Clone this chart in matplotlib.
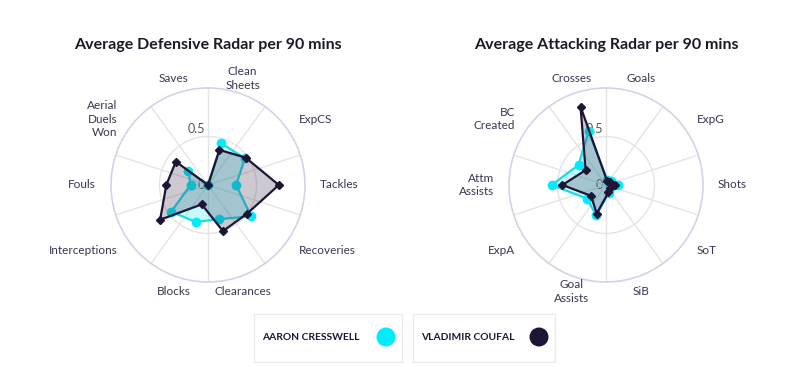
import numpy as np
import matplotlib
matplotlib.use("Agg")
import matplotlib.pyplot as plt
from matplotlib.patches import Rectangle, Circle

plt.rcParams['font.family'] = ['Lato', 'DejaVu Sans']

# ---------------- data ----------------
def_labels = ["Clean\nSheets", "ExpCS", "Tackles", "Recoveries", "Clearances",
              "Blocks", "Interceptions", "Fouls", "Aerial\nDuels\nWon", "Saves"]
def_cresswell = [0.45, 0.47, 0.29, 0.55, 0.37, 0.40, 0.47, 0.18, 0.25, 0.0]
def_coufal = [0.38, 0.48, 0.73, 0.50, 0.50, 0.21, 0.61, 0.43, 0.41, 0.0]

att_labels = ["Goals", "ExpG", "Shots", "SoT", "SiB", "Goal\nAssists",
              "ExpA", "Attm\nAssists", "BC\nCreated", "Crosses"]
att_cresswell = [0.05, 0.07, 0.12, 0.05, 0.09, 0.33, 0.24, 0.56, 0.35, 0.58]
att_coufal = [0.04, 0.05, 0.09, 0.05, 0.08, 0.31, 0.19, 0.45, 0.26, 0.85]

player_names = ["AARON CRESSWELL", "VLADIMIR COUFAL"]
titles = ["Average Defensive Radar per 90 mins", "Average Attacking Radar per 90 mins"]
r_ticks = [0, 0.5]

CYAN = "#00ecfa"
CYAN_LINE = "#1ad9ea"
DARK = "#1e1535"
TEXT = "#3a3550"

W, H = 800, 367
fig = plt.figure(figsize=(W / 100, H / 100), dpi=100)
fig.patch.set_facecolor("white")

R_PX = 97


def radar(cx, cy, labels, vals_a, vals_b, title):
    ax = fig.add_axes([(cx - R_PX) / W, (H - cy - R_PX) / H, 2 * R_PX / W, 2 * R_PX / H],
                      projection="polar")
    ax.set_theta_zero_location("N")
    ax.set_theta_direction(-1)
    ax.set_ylim(0, 1)
    n = len(labels)
    step = 2 * np.pi / n
    theta = np.arange(n) * step + step / 2
    # grid
    ax.set_xticks(np.arange(n) * step)
    ax.set_xticklabels([])
    ax.set_yticks([0.5])
    ax.set_yticklabels([])
    ax.tick_params(length=0)
    ax.xaxis.grid(True, color="#e4e4e4", lw=1)
    ax.yaxis.grid(True, color="#e4e4e4", lw=1)
    ax.spines["polar"].set_color("#cfd4ec")
    ax.spines["polar"].set_linewidth(1.2)
    ax.set_facecolor("none")

    # tick labels
    for rv in r_ticks:
        lab = "0" if rv == 0 else str(rv)
        ax.annotate(lab, xy=(0, rv), xytext=(-2, 0 if rv == 0 else 1),
                    textcoords="offset points", ha="right",
                    va="center" if rv == 0 else "bottom",
                    fontsize=9, color="#555555", zorder=1)

    th = np.concatenate([theta, theta[:1]])
    a = np.concatenate([vals_a, vals_a[:1]])
    b = np.concatenate([vals_b, vals_b[:1]])
    ax.fill(th, a, color=CYAN, alpha=0.22, lw=0, zorder=2)
    ax.plot(th, a, color=CYAN_LINE, lw=1.6, zorder=3)
    ax.plot(theta, vals_a, "o", color=CYAN, ms=6, mec=CYAN, zorder=3)
    ax.fill(th, b, color="#3a2a4a", alpha=0.25, lw=0, zorder=4)
    ax.plot(th, b, color=DARK, lw=1.6, zorder=5)
    ax.plot(theta, vals_b, "D", color=DARK, ms=4.5, zorder=5)

    # category labels
    for t, lab in zip(theta, labels):
        deg = np.degrees(t) % 360
        if abs(deg - 0) < 20 or abs(deg - 180) < 20 or abs(deg - 360) < 20:
            ha = "center"
        elif deg < 180:
            ha = "left"
        else:
            ha = "right"
        ax.text(t, 1.155, lab, ha=ha, va="center", fontsize=8.5, color=TEXT,
                linespacing=1.25, clip_on=False)

    fig.text(cx / W, 1 - 45 / H, title, ha="center", va="center",
             fontsize=11.5, fontweight="bold", color="#1a1a2a")
    return ax


radar(208, 185, def_labels, def_cresswell, def_coufal, titles[0])
radar(606, 185, att_labels, att_cresswell, att_coufal, titles[1])

# legend in pixel coordinates
lg = fig.add_axes([0, 0, 1, 1])
lg.set_xlim(0, W)
lg.set_ylim(H, 0)
lg.axis("off")
lg.patch.set_alpha(0)
boxes = [(254, 402, CYAN), (413, 555, DARK)]
for (x0, x1, col), name in zip(boxes, player_names):
    lg.add_patch(Rectangle((x0, 314), x1 - x0, 48, fc="white", ec="#ececec", lw=1))
    lg.text(x0 + 8, 338, name, ha="left", va="center", fontsize=7.4,
            fontweight="bold", color=DARK)
    lg.add_patch(Circle((x1 - 16, 337), 9.5, fc=col, ec="none"))

fig.savefig("out.png", dpi=100)
